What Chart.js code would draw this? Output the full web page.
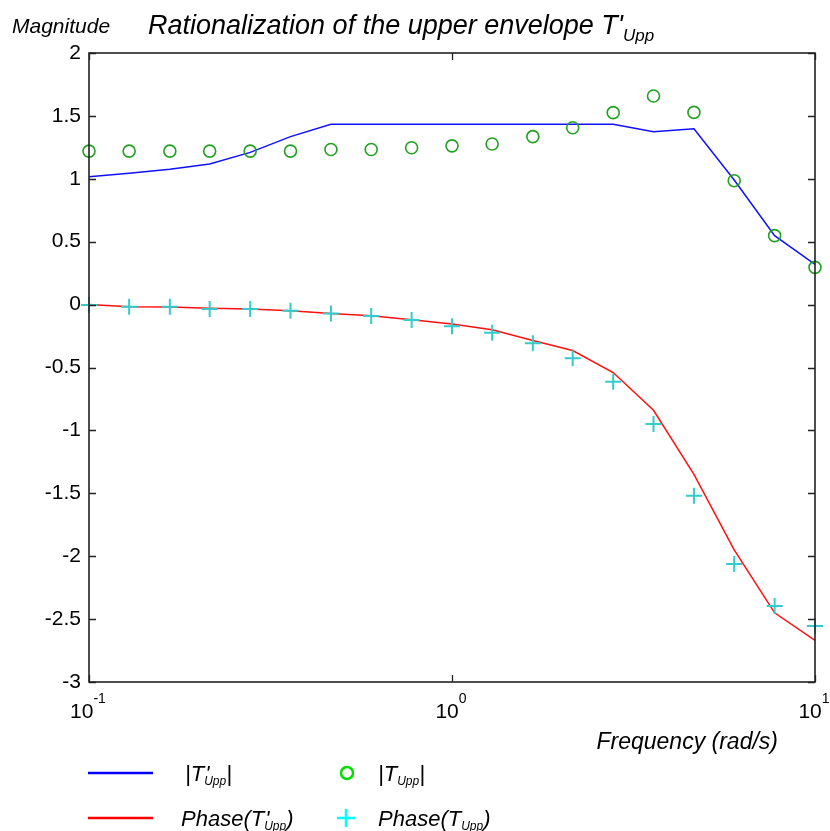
<!DOCTYPE html>
<html><head><meta charset="utf-8">
<script src="https://cdn.jsdelivr.net/npm/chart.js@4/dist/chart.umd.min.js"></script>
<style>html,body{margin:0;padding:0;background:#fff}#wrap{width:830px;height:831px}</style>
</head><body><div id="wrap"><canvas id="c" width="830" height="831"></canvas></div>
<script>
// Frequencies (rad/s)
const freq = [0.1, 0.129, 0.167, 0.215, 0.278, 0.359, 0.464, 0.599, 0.774, 1, 1.29, 1.67, 2.15, 2.78, 3.59, 4.64, 5.99, 7.74, 10];
// |T'Upp| rational fit (blue line)
const magFit = [1.017, 1.045, 1.075, 1.118, 1.21, 1.335, 1.433, 1.433, 1.433, 1.433, 1.433, 1.433, 1.433, 1.433, 1.375, 1.398, 0.99, 0.548, 0.32];
// |TUpp| (green circles)
const magData = [1.22, 1.22, 1.22, 1.22, 1.22, 1.22, 1.233, 1.233, 1.247, 1.262, 1.277, 1.335, 1.406, 1.526, 1.658, 1.528, 0.985, 0.548, 0.296];
// Phase(T'Upp) (red line)
const phaseFit = [0, -0.017, -0.02, -0.03, -0.035, -0.048, -0.07, -0.088, -0.12, -0.155, -0.2, -0.285, -0.365, -0.54, -0.84, -1.35, -1.95, -2.45, -2.67];
// Phase(TUpp) (cyan pluses)
const phaseData = [-0.003, -0.017, -0.017, -0.035, -0.035, -0.048, -0.07, -0.09, -0.122, -0.172, -0.223, -0.308, -0.427, -0.613, -0.949, -1.519, -2.062, -2.396, -2.555];
// Axis ticks
const xTickValues = [0.1, 1, 10];
const xTickExponents = ['-1', '0', '1'];
const yMin = -3, yMax = 2, yStep = 0.5;

const pts = (ys) => freq.map((f, i) => ({x: f, y: ys[i]}));
const FONT = '"Liberation Sans", Arial, sans-serif';

function rich(ctx, x, y, parts) {
  let cx = x;
  for (const p of parts) {
    ctx.font = (p.italic === false ? '' : 'italic ') + p.size + 'px ' + FONT;
    ctx.fillText(p.t, cx + (p.dx || 0), y + (p.dy || 0));
    if (p.advance !== false) cx += ctx.measureText(p.t).width + (p.dx || 0);
  }
  return cx;
}

const frame = {
  id: 'frame',
  afterDraw(chart) {
    const ctx = chart.ctx, a = chart.chartArea;
    const xs = chart.scales.x, ys = chart.scales.y;
    ctx.save();
    ctx.strokeStyle = '#222';
    ctx.lineWidth = 1.6;
    ctx.strokeRect(a.left, a.top, a.right - a.left, a.bottom - a.top);
    ctx.lineWidth = 1.3;
    ctx.beginPath();
    ys.ticks.forEach(t => {
      const py = Math.round(ys.getPixelForValue(t.value)) + 0.5;
      ctx.moveTo(a.left, py); ctx.lineTo(a.left + 7, py);
      ctx.moveTo(a.right, py); ctx.lineTo(a.right - 7, py);
    });
    xTickValues.forEach(v => {
      const px = Math.round(xs.getPixelForValue(v)) + 0.5;
      ctx.moveTo(px, a.top); ctx.lineTo(px, a.top + 7);
      ctx.moveTo(px, a.bottom); ctx.lineTo(px, a.bottom - 7);
    });
    ctx.stroke();

    // x tick labels with superscripts
    ctx.fillStyle = '#000';
    ctx.textBaseline = 'alphabetic';
    xTickValues.forEach((v, i) => {
      const px = xs.getPixelForValue(v);
      ctx.font = '21px ' + FONT;
      const w1 = ctx.measureText('10').width;
      ctx.font = '14px ' + FONT;
      const w2 = ctx.measureText(xTickExponents[i]).width;
      const x0 = px - (w1 + w2) / 2 - 1;
      rich(ctx, x0, 718, [{t: '10', size: 21, italic: false}, {t: xTickExponents[i], size: 14, italic: false, dy: -15}]);
    });

    // axis title
    ctx.font = 'italic 23px ' + FONT;
    ctx.textAlign = 'right';
    ctx.fillText('Frequency (rad/s)', 778, 749);
    ctx.textAlign = 'left';

    // top labels
    ctx.font = 'italic 21px ' + FONT;
    ctx.fillText('Magnitude', 12, 33);
    rich(ctx, 148, 34, [
      {t: 'Rationalization of the upper envelope T\'', size: 27},
      {t: 'Upp', size: 17, dy: 7}
    ]);

    // legend
    const L = [
      {type: 'line', color: '#0000ff', x: 88, y: 773},
      {type: 'line', color: '#ff0000', x: 88, y: 818},
      {type: 'circle', color: '#00e000', x: 347, y: 773},
      {type: 'plus', color: '#00ffff', x: 346, y: 818}
    ];
    L.forEach(m => {
      ctx.strokeStyle = m.color;
      ctx.lineWidth = 2.5;
      ctx.beginPath();
      if (m.type === 'line') { ctx.moveTo(m.x, m.y); ctx.lineTo(m.x + 65, m.y); }
      else if (m.type === 'circle') { ctx.arc(m.x, m.y, 6, 0, Math.PI * 2); }
      else { ctx.moveTo(m.x - 9, m.y); ctx.lineTo(m.x + 9, m.y); ctx.moveTo(m.x, m.y - 9); ctx.lineTo(m.x, m.y + 9); }
      ctx.stroke();
    });
    ctx.fillStyle = '#000';
    rich(ctx, 185, 781, [
      {t: '|T', size: 22}, {t: '\'', size: 22, advance: false, dx: 1}, {t: 'Upp', size: 12, dy: 4}, {t: '|', size: 22}
    ]);
    rich(ctx, 378, 781, [
      {t: '|T', size: 22}, {t: 'Upp', size: 12, dy: 4}, {t: '|', size: 22}
    ]);
    rich(ctx, 181, 826, [
      {t: 'Phase(T', size: 22}, {t: '\'', size: 22, advance: false, dx: 1}, {t: 'Upp', size: 12, dy: 4}, {t: ')', size: 22}
    ]);
    rich(ctx, 378, 826, [
      {t: 'Phase(T', size: 22}, {t: 'Upp', size: 12, dy: 4}, {t: ')', size: 22}
    ]);
    ctx.restore();
  }
};

new Chart(document.getElementById('c'), {
  type: 'line',
  data: {
    datasets: [
      {label: '|TUpp|', data: pts(magData), showLine: false, borderColor: '#22a022', backgroundColor: 'rgba(0,0,0,0)',
       pointStyle: 'circle', pointRadius: 6, pointBorderWidth: 1.6, clip: false, order: 0},
      {label: 'Phase(TUpp)', data: pts(phaseData), showLine: false, borderColor: '#33cccc', backgroundColor: '#33cccc',
       pointStyle: 'cross', pointRadius: 8, pointBorderWidth: 2, clip: false, order: 1},
      {label: "|T'Upp|", data: pts(magFit), borderColor: '#1010ff', borderWidth: 1.5, pointRadius: 0, tension: 0, fill: false, order: 2},
      {label: "Phase(T'Upp)", data: pts(phaseFit), borderColor: '#ff1010', borderWidth: 1.5, pointRadius: 0, tension: 0, fill: false, order: 3}
    ]
  },
  options: {
    responsive: false,
    animation: false,
    layout: {padding: {top: 53, right: 15, left: 0, bottom: 0}},
    plugins: {legend: {display: false}, title: {display: false}, tooltip: {enabled: false}},
    scales: {
      x: {
        type: 'logarithmic', min: 0.1, max: 10,
        afterBuildTicks: s => { s.ticks = xTickValues.map(v => ({value: v})); },
        afterFit: s => { s.height = 149; },
        ticks: {display: false},
        grid: {display: false},
        border: {display: false}
      },
      y: {
        min: yMin, max: yMax,
        afterFit: s => { s.width = 89; },
        ticks: {stepSize: yStep, color: '#000', font: {family: FONT, size: 21}, padding: 8,
                callback: v => String(Math.round(v * 10) / 10)},
        grid: {display: false, drawTicks: false},
        border: {display: false}
      }
    }
  },
  plugins: [frame]
});
</script>
</body></html>
